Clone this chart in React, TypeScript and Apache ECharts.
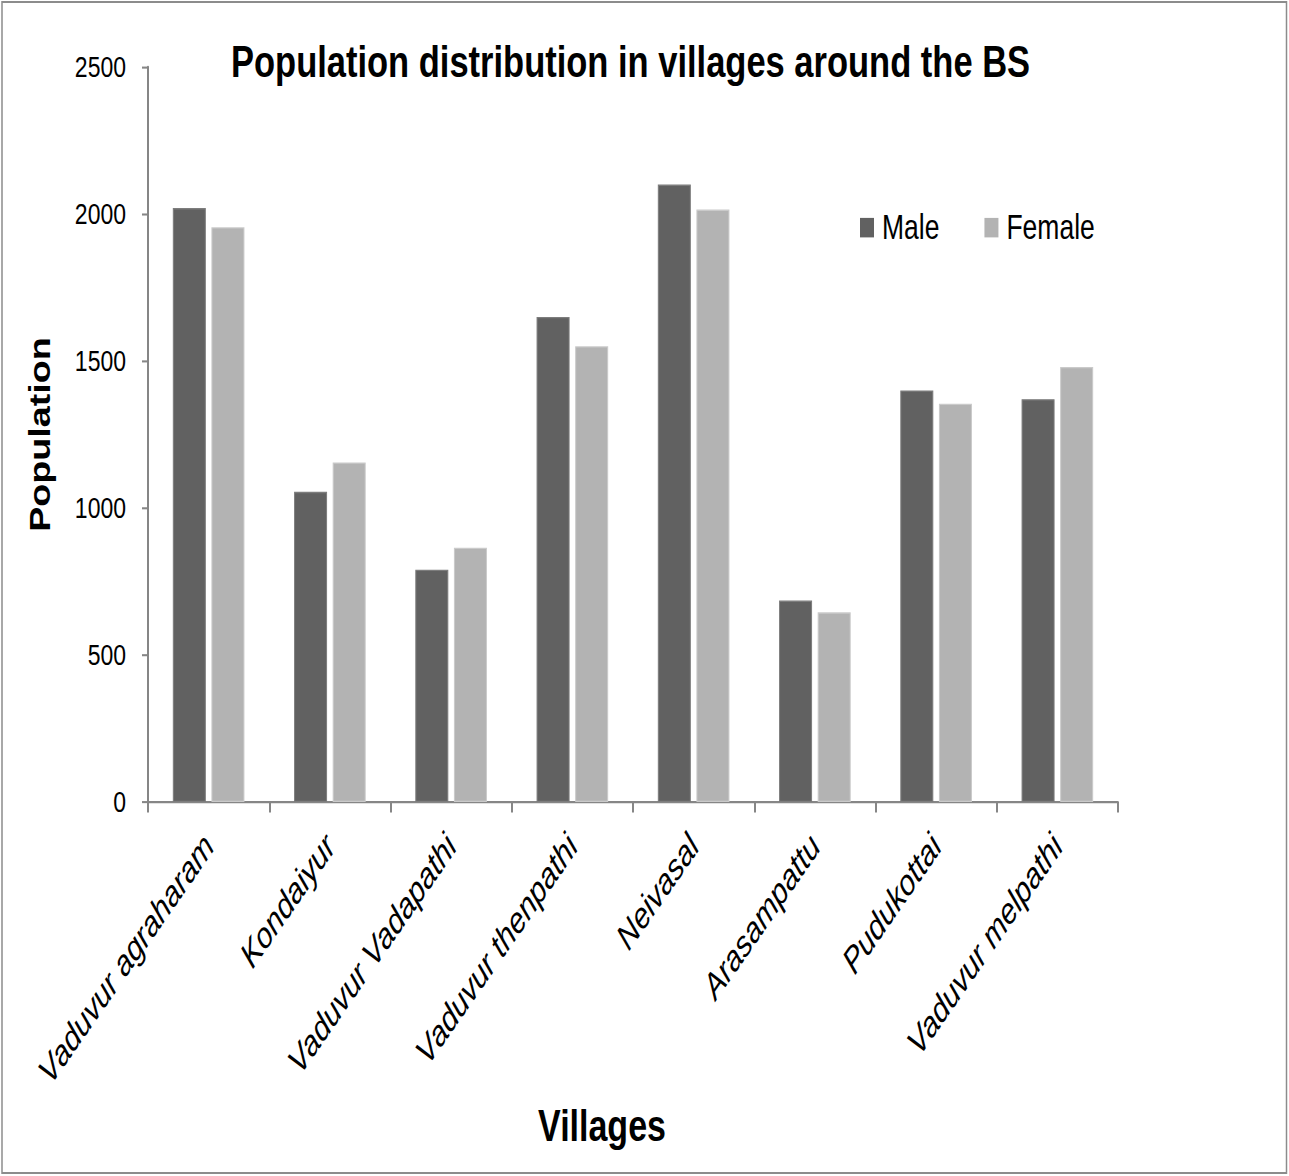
import React, { useEffect, useRef } from "react";
import * as echarts from "echarts";

// Village population by sex
const villages = [
  "Vaduvur agraharam",
  "Kondaiyur",
  "Vaduvur Vadapathi",
  "Vaduvur thenpathi",
  "Neivasal",
  "Arasampattu",
  "Pudukottai",
  "Vaduvur melpathi",
];
const male = [2020, 1055, 790, 1650, 2100, 685, 1400, 1370];
const female = [1955, 1155, 865, 1550, 2015, 645, 1355, 1480];

const seriesNames = ["Male", "Female"];
const seriesColors = ["#616161", "#b3b3b3"];

const titleText = "Population distribution in villages around the BS";
const yAxisTitle = "Population";
const xAxisTitle = "Villages";

// The chart is laid out on a shorter canvas and stretched vertically.
const W = 1289;
const H = 1176;
const S = 1.3;
const PRE_H = H / S;
const ys = (v: number) => v / S;

const FONT = "'Liberation Sans', Arial, sans-serif";

export default function App() {
  const ref = useRef<HTMLDivElement>(null);

  useEffect(() => {
    document.body.style.overflow = "hidden";
    const chart = echarts.init(ref.current!, null, { renderer: "svg" });
    chart.setOption({
      animation: false,
      backgroundColor: "#ffffff",
      title: {
        text: titleText,
        left: 231,
        top: ys(39),
        padding: 0,
        textStyle: {
          fontFamily: FONT,
          fontSize: 34.5,
          fontWeight: "bold",
          color: "#000",
        },
      },
      legend: {
        left: 860,
        top: ys(227) - 13,
        itemWidth: 14,
        itemHeight: 15,
        itemGap: 45,
        icon: "rect",
        padding: 0,
        itemStyle: { borderWidth: 0 },
        textStyle: {
          fontFamily: FONT,
          fontSize: 26.5,
          color: "#000",
          padding: [0, 0, 0, 3],
        },
        data: seriesNames,
      },
      grid: {
        left: 148,
        width: 970,
        top: ys(67),
        height: ys(802) - ys(67),
        containLabel: false,
      },
      xAxis: {
        type: "category",
        data: villages,
        boundaryGap: true,
        name: xAxisTitle,
        nameLocation: "middle",
        nameGap: 232,
        nameTextStyle: {
          fontFamily: FONT,
          fontSize: 34,
          fontWeight: "bold",
          color: "#000",
          padding: [0, 62, 0, 0],
        },
        axisLine: { lineStyle: { color: "#868686", width: 1.6 } },
        axisTick: {
          show: true,
          interval: 0,
          length: 8,
          lineStyle: { color: "#868686", width: 2 },
        },
        axisLabel: {
          interval: 0,
          rotate: 48,
          margin: 29,
          fontFamily: FONT,
          fontStyle: "italic",
          fontSize: 28,
          color: "#000",
        },
        splitLine: { show: false },
      },
      yAxis: {
        type: "value",
        min: 0,
        max: 2500,
        interval: 500,
        name: yAxisTitle,
        nameLocation: "middle",
        nameRotate: 90,
        nameGap: 93,
        nameTextStyle: {
          fontFamily: FONT,
          fontSize: 29,
          fontWeight: "bold",
          color: "#000",
        },
        axisLine: { show: true, lineStyle: { color: "#868686", width: 2 } },
        axisTick: {
          show: true,
          length: 6,
          lineStyle: { color: "#868686", width: 1.6 },
        },
        axisLabel: {
          margin: 22,
          fontFamily: FONT,
          fontSize: 23,
          color: "#000",
          formatter: (v: number) => String(v),
        },
        splitLine: { show: false },
      },
      series: [
        {
          name: seriesNames[0],
          type: "bar",
          data: male,
          barWidth: 33,
          barGap: "17%",
          itemStyle: {
            color: seriesColors[0],
            borderColor: "#7d7d7d",
            borderWidth: 1,
          },
        },
        {
          name: seriesNames[1],
          type: "bar",
          data: female,
          barWidth: 33,
          barGap: "17%",
          itemStyle: {
            color: seriesColors[1],
            borderColor: "#cacaca",
            borderWidth: 1,
          },
        },
      ],
      graphic: [
        {
          type: "rect",
          silent: true,
          shape: { x: 2, y: ys(2), width: W - 4.5, height: ys(1173) - ys(2) },
          style: { fill: "none", stroke: "#8c8c8c", lineWidth: 1.5 },
        },
      ],
    });
    return () => chart.dispose();
  }, []);

  return (
    <div
      ref={ref}
      style={{
        position: "absolute",
        left: 0,
        top: 0,
        width: W,
        height: PRE_H,
        transform: `scaleY(${S})`,
        transformOrigin: "0 0",
        background: "#fff",
      }}
    />
  );
}
